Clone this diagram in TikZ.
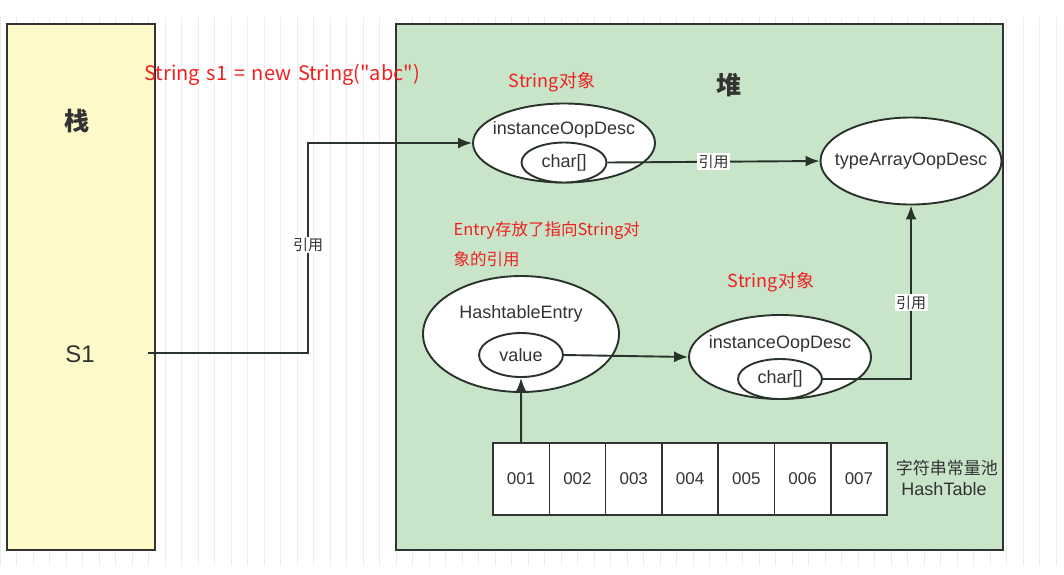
\documentclass[tikz,border=0pt]{standalone}
\usepackage{fontspec}
\setmainfont{Liberation Sans}
\newfontfamily\cjk{Noto Sans CJK SC}
\newfontfamily\cjkcode{Noto Sans CJK SC}[WordSpace=1.5]
\usepackage{xcolor}
\usepackage{tikz}
\usetikzlibrary{shapes.geometric,arrows.meta,positioning}
\definecolor{ink}{HTML}{333333}
\definecolor{edgeink}{HTML}{2A332B}
\definecolor{stackfill}{HTML}{FDF9C9}
\definecolor{heapfill}{HTML}{C8E5CA}
\definecolor{note}{HTML}{F02020}
\newcommand{\fsz}[1]{\fontsize{#1}{#1}\selectfont}

\begin{document}
\begin{tikzpicture}[x=1pt,y=-1pt,>={Latex[length=14pt,width=11pt]},
	area/.style={draw=ink,line width=2.2pt,inner sep=0pt},
	obj/.style={ellipse,draw=edgeink,fill=white,line width=1.9pt,inner sep=0pt},
	txt/.style={text=ink,font=\fsz{18}},
	ref/.style={->,draw=edgeink,line width=1.9pt},
	tag/.style={fill=white,text=ink,inner sep=1.5pt,font=\cjk\fsz{15}},
	red/.style={text=note,font=\cjk\fsz{18}},
	cell/.style={draw=ink,fill=white,line width=1.6pt,minimum width=56.3pt,minimum height=72pt,inner sep=0pt,text=ink,font=\fsz{17}}]
	\useasboundingbox (0,0) rectangle (1064,574);
	\fill[white] (0,0) rectangle (1064,574);
	\draw[black!7,line width=0.6pt,step=16.5] (0,17) grid (1064,566);
	
	% stack and heap
	\node[area,fill=stackfill,minimum width=148pt,minimum height=526pt] (stack) at (81,287) {};
	\node[area,fill=heapfill,minimum width=607pt,minimum height=526pt] (heap) at (699.5,287) {};
	\node[text=ink,font=\cjk\bfseries\fsz{25}] (stacklbl) at (77,121) {栈};
	\node[text=ink,font=\cjk\bfseries\fsz{25}] (heaplbl) at (729,85) {堆};
	\node[text=ink,font=\fsz{24}] (s1) at (80,354) {S1};
	\coordinate (s1out) at (148,353);
	
	% notes
	\node[red,anchor=west,font=\cjkcode\fsz{20}] (code) at (141,75) {String s1 = new String("abc")};
	\node[red] (strobj1) at (552,82) {String对象};
	\node[red,anchor=north west,align=left,font=\cjk\fsz{16.5}] (entrynote) at (450,218) {Entry存放了指向String对\\[11pt]象的引用};
	\node[red] (strobj2) at (771,282) {String对象};
	
	% objects
	\node[obj,minimum width=182pt,minimum height=79pt] (obj1) at (564,143) {};
	\node[txt] (obj1t) at (564,130) {instanceOopDesc};
	\node[obj,minimum width=85pt,minimum height=40pt,txt] (arr1) at (564,162.5) {char[]};
	\node[obj,minimum width=181pt,minimum height=87pt] (tarr) at (911,161) {};
	\node[txt] (tarrt) at (911,161) {typeArrayOopDesc};
	\node[obj,minimum width=196pt,minimum height=116pt] (ent) at (521,334) {};
	\node[txt] (entt) at (521,314) {HashtableEntry};
	\node[obj,minimum width=84pt,minimum height=44pt,txt] (val) at (521,355) {value};
	\node[obj,minimum width=182pt,minimum height=84pt] (obj2) at (780,357) {};
	\node[txt] (obj2t) at (780,344) {instanceOopDesc};
	\node[obj,minimum width=84pt,minimum height=40pt,txt] (arr2) at (780,379) {char[]};
	
	% string table
	\foreach \i in {1,...,7}
		\node[cell] (c\i) at ({493+56.3*(\i-0.5)},479) {00\i};
	\node[text=ink,align=center,font=\fsz{18}] (pool) at (944,478) {{\cjk\fsz{17} 字符串常量池}\\[3pt]HashTable};
	
	% references
	\draw[ref] (s1out) -| (308,245) node[tag]{引用} |- (obj1.west);
	\draw[ref] (arr1.east) -- node[tag]{引用} (tarr.west);
	\draw[ref] (val.east) -- (obj2.west);
	\draw[ref] (arr2.east) -| node[tag,pos=0.72]{引用} (tarr.south);
	\draw[ref] (c1.north) -- (val.south);
\end{tikzpicture}
\end{document}
